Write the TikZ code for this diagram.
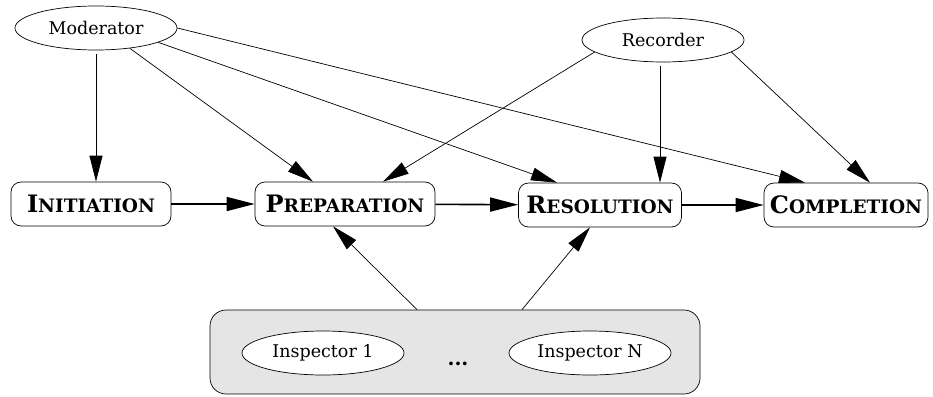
\documentclass[tikz,border=0pt]{standalone}
\usepackage{fontspec}
\setmainfont{DejaVu Serif}
\usetikzlibrary{arrows.meta,shapes.geometric,calc}
% hand-made bold small caps: first letter large, rest smaller
\newcommand{\phasename}[2]{{\fontsize{24}{27}\selectfont #1}{\fontsize{18.5}{21}\selectfont #2}}
\begin{document}
\begin{tikzpicture}[x=1pt,y=-1pt,
  role/.style={draw, ellipse, line width=0.7pt, minimum width=162pt, minimum height=44pt,
    inner sep=0pt, fill=white, font=\fontsize{17.5}{20}\selectfont},
  phase/.style={draw, line width=0.7pt, rounded corners=10pt, minimum height=44pt,
    inner sep=0pt, font=\bfseries},
  link/.style={-{Triangle[length=26pt,width=13pt]}, line width=0.7pt},
  flow/.style={-{Triangle[length=28pt,width=14pt]}, line width=1.6pt}]
\useasboundingbox (0,0) rectangle (933,396);

% roles
\node[role] (mod) at (96,28) {Moderator};
\node[role] (rec) at (663,40) {Recorder};

% phases
\node[phase, minimum width=160pt] (ini) at (91,204) {\phasename{I}{NITIATION}};
\node[phase, minimum width=180pt] (pre) at (345,204) {\phasename{P}{REPARATION}};
\node[phase, minimum width=163pt] (res) at (600,205) {\phasename{R}{ESOLUTION}};
\node[phase, minimum width=164pt] (com) at (846,205) {\phasename{C}{OMPLETION}};

% inspector group
\node[draw, line width=0.7pt, fill=black!10, rounded corners=16pt,
  minimum width=490pt, minimum height=84pt] (grp) at (455,352) {};
\node[role] (ia) at (323,353) {Inspector 1};
\node[role] (in) at (590,353) {Inspector N};
\node[font=\fontsize{20}{20}\selectfont\bfseries] (dots) at (458,364) {...};

% phase flow
\draw[flow] (ini) -- (pre);
\draw[flow] (pre) -- (res);
\draw[flow] (res) -- (com);

% moderator
\draw[link, shorten <=4pt] (mod.south) -- (mod.south |- ini.north);
\draw[link] (mod.-31) -- ($(pre.north)+(-32,0)$);
\draw[link] (mod.-13) -- ($(res.north)+(-43,0)$);
\draw[link] (mod.east) -- ($(com.north)+(-41,0)$);

% recorder
\draw[link] (rec.190) -- ($(pre.north)+(38,0)$);
\draw[link, shorten <=4pt] ($(rec.south)+(-3,0)$) -- ($(res.north)+(60,0)$);
\draw[link] (rec.-10) -- ($(com.north)+(24,0)$);

% inspectors
\draw[link] ($(grp.north)+(-38,0)$) -- ($(pre.south)+(-12,0)$);
\draw[link] ($(grp.north)+(67,0)$) -- ($(res.south)+(-10,0)$);
\end{tikzpicture}
\end{document}
